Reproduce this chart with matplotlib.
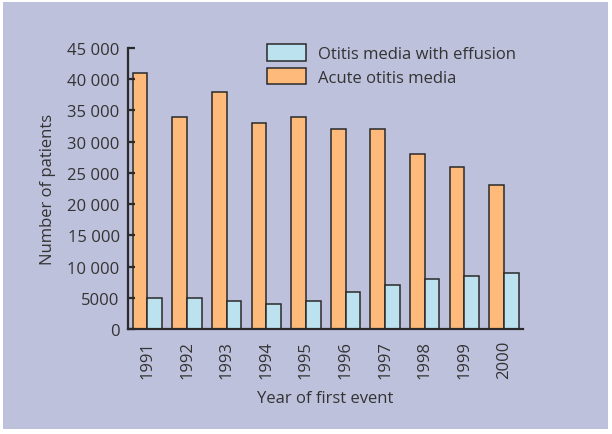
import numpy as np
import matplotlib
matplotlib.use('Agg')
import matplotlib.pyplot as plt
from matplotlib.patches import Rectangle

# Data
years = ['1991', '1992', '1993', '1994', '1995', '1996', '1997', '1998', '1999', '2000']
acute = [41000, 34000, 38000, 33000, 34000, 32000, 32000, 28000, 26000, 23000]
effusion = [5000, 5000, 4500, 4000, 4500, 6000, 7000, 8000, 8500, 9000]
y_ticks = [0, 5000, 10000, 15000, 20000, 25000, 30000, 35000, 40000, 45000]
y_tick_labels = ['0', '5000', '10 000', '15 000', '20 000', '25 000',
                 '30 000', '35 000', '40 000', '45 000']

plt.rcParams['font.family'] = ['Open Sans', 'DejaVu Sans']
text_color = '#333333'
edge = '#2a2a2a'
bg = '#bec1dc'

fig = plt.figure(figsize=(6.12, 4.35), dpi=100, facecolor='white')
# lavender panel behind the chart
panel = Rectangle((3 / 612, 5 / 435), 605 / 612, 427 / 435,
                  transform=fig.transFigure, facecolor=bg,
                  edgecolor='none', zorder=-10)
fig.add_artist(panel)

ax = fig.add_axes([128 / 612, 1 - 330 / 435, 395 / 612, 281 / 435])
ax.set_facecolor('none')

x = np.arange(len(years))
w = 0.37
ax.bar(x - w / 2, acute, width=w, color='#fdba7a', edgecolor=edge,
       linewidth=1.1, label='Acute otitis media')
ax.bar(x + w / 2, effusion, width=w, color='#bde2ef', edgecolor=edge,
       linewidth=1.1, label='Otitis media with effusion')

ax.set_xlim(-0.49, 9.48)
ax.set_ylim(0, 45000)
ax.set_yticks(y_ticks)
ax.set_yticklabels(y_tick_labels)
ax.set_xticks(x)
ax.set_xticklabels(years, rotation=90)

for s in ['top', 'right']:
    ax.spines[s].set_visible(False)
for s in ['left', 'bottom']:
    ax.spines[s].set_linewidth(1.6)
    ax.spines[s].set_color(edge)

ax.tick_params(axis='y', direction='in', length=5, width=1.6, color=edge,
               labelsize=12, labelcolor=text_color, pad=6)
ax.tick_params(axis='x', length=0, labelsize=12, labelcolor=text_color, pad=8)

ax.set_xlabel('Year of first event', fontsize=12, color=text_color, labelpad=8)
ax.set_ylabel('Number of patients', fontsize=12, color=text_color, labelpad=8)

handles, labels = ax.get_legend_handles_labels()
leg = fig.legend(handles[::-1], labels[::-1], loc='upper left',
                 bbox_to_anchor=(267 / 612, 1 - 45 / 435), frameon=False,
                 borderpad=0, borderaxespad=0, handlelength=2.35,
                 handleheight=1.15, handletextpad=0.7, labelspacing=0.35,
                 fontsize=12)
for t in leg.get_texts():
    t.set_color(text_color)

plt.savefig('out.png', dpi=100, facecolor='white')
